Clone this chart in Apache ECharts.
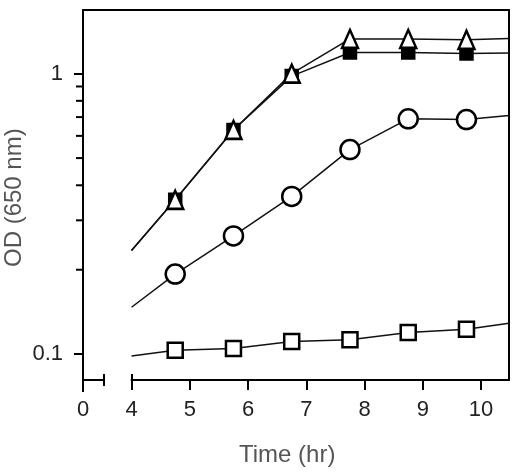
<!DOCTYPE html>
<html>
<head>
<meta charset="utf-8">
<script src="https://cdn.jsdelivr.net/npm/echarts@6/dist/echarts.min.js"></script>
<style>
  html, body { margin: 0; padding: 0; background: #fff; }
  #chart { width: 525px; height: 473px; }
</style>
</head>
<body>
<div id="chart"></div>
<script>
// sampling times (hr)
const times = [4.75, 5.75, 6.75, 7.75, 8.75, 9.75];
const xStart = 4;
const xEnd = 10.48;

// OD values; start/end are where the lines meet the frame
const triangleOD = [0.355, 0.63, 1.0, 1.33, 1.33, 1.32];
const triangleEnds = [0.234, 1.335];
const filledSquareOD = [0.355, 0.63, 0.98, 1.19, 1.19, 1.18];
const filledSquareEnds = [0.234, 1.185];
const circleOD = [0.193, 0.264, 0.365, 0.536, 0.69, 0.686];
const circleEnds = [0.147, 0.709];
const openSquareOD = [0.1033, 0.1048, 0.111, 0.1125, 0.1195, 0.1228];
const openSquareEnds = [0.0986, 0.129];

const xTicks = [4, 5, 6, 7, 8, 9, 10];
const yLabels = [0.1, 1];
const yMinorTicks = [0.2, 0.3, 0.4, 0.5, 0.6, 0.7, 0.8, 0.9];

const chart = echarts.init(document.getElementById("chart"));

const lbl = { fontFamily: "Liberation Sans", fontSize: 22, color: "#222" };
const axLine = { show: true, lineStyle: { color: "#000", width: 2 } };
const tickLine = { width: 2, color: "#000" };
const xMin = 3.167;

function buildData(vals, ends) {
  const d = [{ value: [xStart, ends[0]], symbol: "none" }];
  times.forEach((t, i) => d.push([t, vals[i]]));
  d.push({ value: [xEnd, ends[1]], symbol: "none" });
  return d;
}

function lineSeries(vals, ends, symbol, size, fill) {
  return {
    type: "line",
    xAxisIndex: 0,
    yAxisIndex: 0,
    data: buildData(vals, ends),
    symbol: symbol,
    symbolSize: size,
    showAllSymbol: true,
    lineStyle: { color: "#111", width: 1.5 },
    itemStyle: { color: fill, borderColor: "#000", borderWidth: 2.5 },
    emphasis: { disabled: true },
    clip: false,
  };
}

const yMin = 0.0809;
const yMax = 1.686;

const option = {
  animation: false,
  grid: [
    { left: 83, right: 16, top: 10, bottom: 93 }, // main plot
    { left: 131.5, right: 16, top: 10, bottom: 93 }, // 4..10 part of x axis
    { left: 83, right: 421.5, top: 10, bottom: 93 }, // 0 stub before the break
  ],
  xAxis: [
    { gridIndex: 0, type: "value", min: xMin, max: xEnd, position: "top",
      axisLine: axLine, axisTick: { show: false }, axisLabel: { show: false }, splitLine: { show: false } },
    { gridIndex: 1, type: "value", min: 4, max: xEnd, position: "bottom",
      axisLine: axLine,
      axisTick: { show: true, length: 10, customValues: xTicks, lineStyle: tickLine },
      axisLabel: Object.assign({ customValues: xTicks, margin: 19 }, lbl),
      splitLine: { show: false } },
    { gridIndex: 1, type: "value", min: 4, max: xEnd, position: "bottom",
      axisLine: { show: false },
      axisTick: { show: true, inside: true, length: 6, customValues: [4], lineStyle: tickLine },
      axisLabel: { show: false }, splitLine: { show: false } },
    { gridIndex: 2, type: "value", min: 0, max: 1, position: "bottom",
      axisLine: axLine,
      axisTick: { show: true, length: 12, customValues: [0], lineStyle: tickLine },
      axisLabel: Object.assign({ customValues: [0], margin: 19 }, lbl),
      splitLine: { show: false } },
    { gridIndex: 2, type: "value", min: 0, max: 1, position: "bottom",
      axisLine: { show: false },
      axisTick: { show: true, length: 6, customValues: [1], lineStyle: tickLine },
      axisLabel: { show: false }, splitLine: { show: false } },
    { gridIndex: 2, type: "value", min: 0, max: 1, position: "bottom",
      axisLine: { show: false },
      axisTick: { show: true, inside: true, length: 6, customValues: [1], lineStyle: tickLine },
      axisLabel: { show: false }, splitLine: { show: false } },
  ],
  yAxis: [
    { gridIndex: 0, type: "log", logBase: 10, min: yMin, max: yMax, position: "left",
      axisLine: axLine,
      axisTick: { show: true, length: 9, customValues: yLabels, lineStyle: tickLine },
      axisLabel: Object.assign({ customValues: yLabels, margin: 20,
        formatter: (v) => (Math.abs(v - 1) < 1e-6 ? "1" : "0.1") }, lbl),
      splitLine: { show: false } },
    { gridIndex: 0, type: "log", logBase: 10, min: yMin, max: yMax, position: "right",
      axisLine: axLine, axisTick: { show: false }, axisLabel: { show: false }, splitLine: { show: false } },
    { gridIndex: 1, type: "value", show: false },
    { gridIndex: 2, type: "value", show: false },
  ],
  graphic: [
    { type: "text", left: 239, top: 443,
      style: { text: "Time (hr)", fontFamily: "Liberation Sans", fontSize: 24, fill: "#555" } },
    { type: "text", x: 2, y: 267, rotation: Math.PI / 2,
      style: { text: "OD (650 nm)", fontFamily: "Liberation Sans", fontSize: 24, fill: "#555" } },
  ],
  series: [
    // minor log ticks on the left axis, placed through the axis scales
    {
      type: "custom",
      xAxisIndex: 0,
      yAxisIndex: 0,
      data: yMinorTicks.map((v) => [xMin, v]),
      clip: false,
      silent: true,
      z: 10,
      renderItem: (params, api) => {
        const p = api.coord([api.value(0), api.value(1)]);
        return {
          type: "line",
          shape: { x1: p[0] - 7, y1: p[1], x2: p[0], y2: p[1] },
          style: { stroke: "#000", lineWidth: 2 },
        };
      },
    },
    lineSeries(openSquareOD, openSquareEnds, "rect", 15, "#fff"),
    lineSeries(circleOD, circleEnds, "circle", 19, "#fff"),
    lineSeries(filledSquareOD, filledSquareEnds, "rect", 12, "#000"),
    lineSeries(triangleOD, triangleEnds, "triangle", [16, 18], "#fff"),
  ],
};

chart.setOption(option);
</script>
</body>
</html>
